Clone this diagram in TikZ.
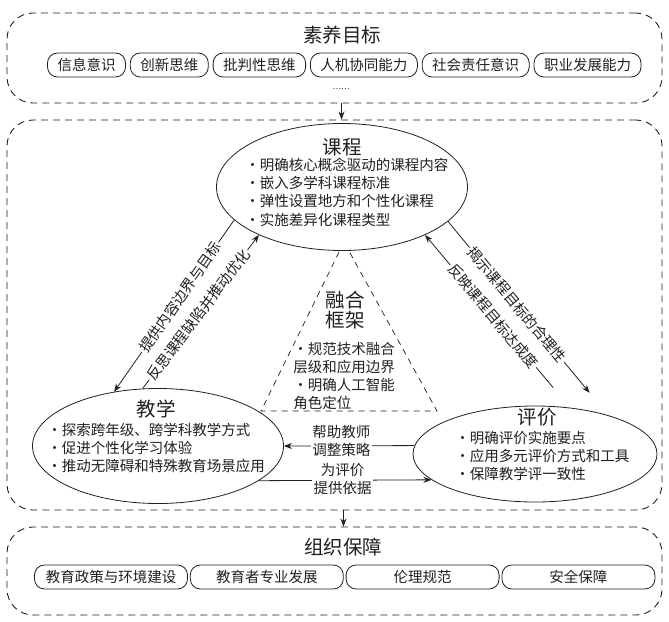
\documentclass[tikz,border=0pt]{standalone}
\usepackage{fontspec}
\setmainfont{Noto Sans CJK SC}
\usetikzlibrary{arrows.meta,positioning,shapes.geometric}
\definecolor{ink}{HTML}{231F20}

\begin{document}
\begin{tikzpicture}[x=1pt, y=-1pt, ink, line width=0.8pt,
  zone/.style={draw, line width=0.9pt, dash pattern=on 7pt off 5pt, rounded corners=26pt, minimum width=655pt},
  head/.style={inner sep=0pt, font=\fontsize{19.5}{20.5}\selectfont},
  body/.style={inner sep=0pt, align=left, font=\fontsize{14.5}{18.3}\selectfont},
  pill/.style={draw, rounded corners=10pt, minimum height=24pt, inner xsep=10pt, inner ysep=0pt, font=\fontsize{14.5}{18}\selectfont},
  oval/.style={draw, fill=white, ellipse, inner sep=0pt},
  tag/.style={fill=white, inner sep=1.5pt, font=\fontsize{14.5}{18.5}\selectfont},
  arr/.style={-{Stealth[length=8pt,width=6pt]}}]
  \useasboundingbox (0,0) rectangle (669,621);

  \node[zone, minimum height=90pt] (goal) at (334.5,58) {};
  \node[zone, minimum height=390pt] (core) at (334.5,315) {};
  \node[zone, minimum height=88pt] (safe) at (334.5,571) {};

  \node[head] (goalt) at (342,35) {素养目标};
  \node[pill] (g1) at (86.5,65) {信息意识};
  \node[pill, right=4pt of g1] (g2) {创新思维};
  \node[pill, right=4pt of g2] (g3) {批判性思维};
  \node[pill, right=4pt of g3] (g4) {人机协同能力};
  \node[pill, right=4pt of g4] (g5) {社会责任意识};
  \node[pill, right=4pt of g5] (g6) {职业发展能力};
  \node[inner sep=0pt, font=\fontsize{8}{8}\selectfont] (more) at (341,89) {……};

  \draw[arr] ([xshift=7pt]goal.south) -- ([xshift=7pt]core.north);
  \draw[arr] ([xshift=9pt]core.south) -- ([xshift=9pt]safe.north);

  \draw[line width=0.7pt, dash pattern=on 6pt off 5pt] (344,242) -- (261,411) -- (437,411) -- cycle;
  \node[head, align=center] (rht) at (345,310) {融合\\框架};
  \node[body, anchor=west] (rhl) at (293,376) {·规范技术融合\\层级和应用边界\\·明确人工智能\\角色定位};

  \node[oval, minimum width=251pt, minimum height=127pt] (kc) at (342,187) {};
  \node[oval, minimum width=251pt, minimum height=115pt] (jx) at (158,446) {};
  \node[oval, minimum width=244pt, minimum height=96pt] (pj) at (535,454) {};

  \node[head] (kct) at (342,147) {课程};
  \node[body, anchor=west] (kcl) at (245,192) {·明确核心概念驱动的课程内容\\·嵌入多学科课程标准\\·弹性设置地方和个性化课程\\·实施差异化课程类型};
  \node[head] (jxt) at (156,409) {教学};
  \node[body, anchor=west] (jxl) at (47,448) {·探索跨年级、跨学科教学方式\\·促进个性化学习体验\\·推动无障碍和特殊教育场景应用};
  \node[head] (pjt) at (537,417) {评价};
  \node[body, anchor=west] (pjl) at (455,456) {·明确评价实施要点\\·应用多元评价方式和工具\\·保障教学评一致性};

  \draw[arr] (kc.197.8) -- node[tag, sloped, pos=0.45] {提供内容边界与目标} (jx.129.9);
  \draw[arr] (jx.105.7) -- node[tag, sloped, pos=0.48] {反思课程缺陷并推动优化} (kc.210.8);
  \draw[arr, shorten >=29pt] (kc.342.5) -- node[tag, sloped, pos=0.43] {揭示课程目标的合理性} (pj.28.8);
  \draw[arr, shorten <=26pt] (pj.53.1) -- node[tag, sloped, pos=0.53] {反映课程目标达成度} (kc.330.4);

  \draw[arr] (pj.176.2) -- node[tag, align=center, pos=0.56, yshift=5pt] {帮助教师\\调整策略} (jx.east);
  \draw[arr] (jx.341.4) -- node[tag, align=center, pos=0.485, yshift=1.5pt] {为评价\\提供依据} (pj.194.2);

  \node[head] (safet) at (343,547) {组织保障};
  \node[pill, minimum width=153pt, inner xsep=6pt] (s1) at (111,577) {教育政策与环境建设};
  \node[pill, minimum width=153pt, inner xsep=6pt, right=2pt of s1] (s2) {教育者专业发展};
  \node[pill, minimum width=153pt, inner xsep=6pt, right=2pt of s2] (s3) {伦理规范};
  \node[pill, minimum width=153pt, inner xsep=6pt, right=2pt of s3] (s4) {安全保障};
\end{tikzpicture}
\end{document}
